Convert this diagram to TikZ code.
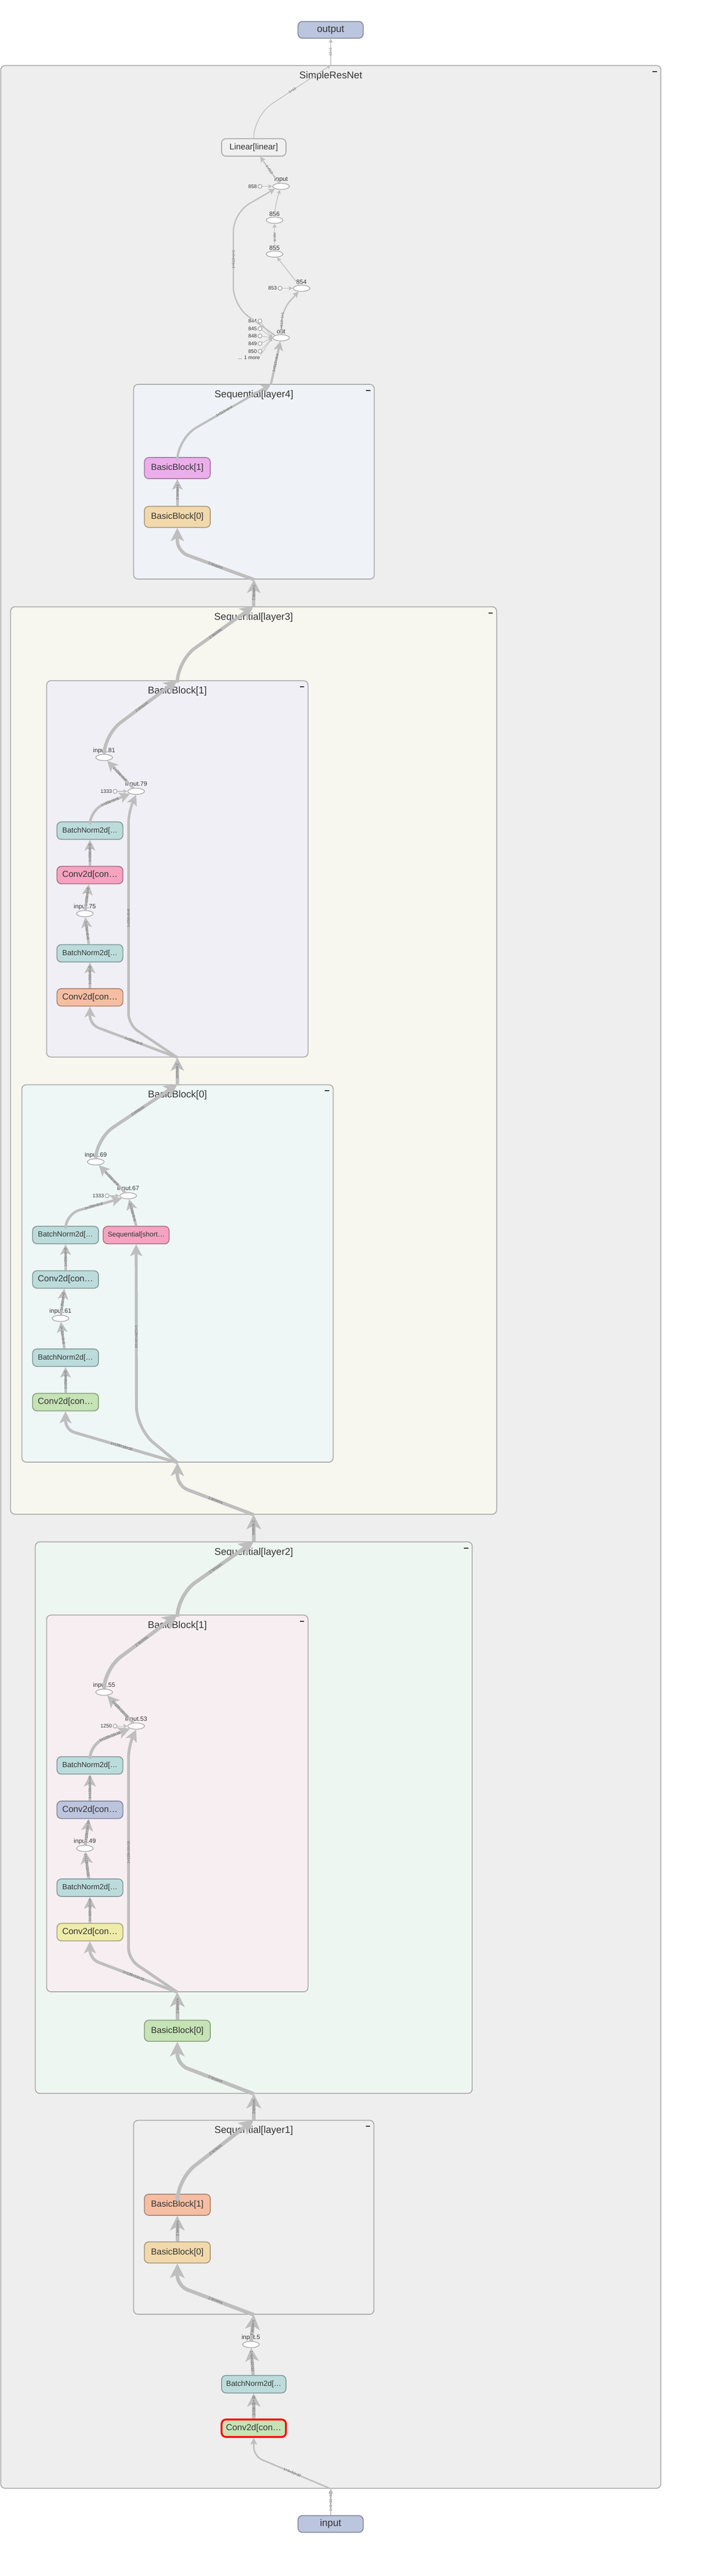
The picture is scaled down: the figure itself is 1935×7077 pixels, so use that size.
\documentclass[tikz,border=0pt]{standalone}
\usepackage{fontspec}
\setmainfont{Liberation Sans}
\usetikzlibrary{arrows.meta,shapes.geometric}

\newcommand\pxfont[1]{\fontsize{#1}{#1}\selectfont}

\definecolor{edgegray}{HTML}{BEBEBE}
\definecolor{boxline}{HTML}{A9A9A9}
\definecolor{txt}{HTML}{333333}
\definecolor{labtxt}{HTML}{666666}
\definecolor{netfill}{HTML}{EEEEEE}
\definecolor{lfourfill}{HTML}{EFF2F7}
\definecolor{lthreefill}{HTML}{F7F7F0}
\definecolor{bbonefill}{HTML}{F1EFF6}
\definecolor{bbzerofill}{HTML}{EEF7F5}
\definecolor{ltwofill}{HTML}{EEF6F1}
\definecolor{bbtwofill}{HTML}{F7EEF2}
\definecolor{lonefill}{HTML}{EFEFEF}
\definecolor{iofill}{HTML}{BBC5DE}
\definecolor{bnfill}{HTML}{BCDCDC}
\definecolor{pinkfill}{HTML}{F5A3C0}
\definecolor{salmonfill}{HTML}{F5BEA3}
\definecolor{tanfill}{HTML}{F1D9AB}
\definecolor{violetfill}{HTML}{EBAEEB}
\definecolor{greenfill}{HTML}{C5E3B5}
\definecolor{bluefill}{HTML}{BCC5DD}
\definecolor{yellowfill}{HTML}{EEECA8}
\definecolor{linfill}{HTML}{F0F0F0}

\begin{document}
\begin{tikzpicture}[x=1pt, y=-1pt,
        grp/.style={draw=boxline, line width=2.5, rounded corners=12, inner sep=0},
        gtitle/.style={text=txt, font=\pxfont{27}, inner sep=0},
        modbox/.style={draw=#1!70!black, fill=#1, line width=2.5, rounded corners=12, text=txt, inner sep=0, minimum height=48},
        iobox/.style={modbox=iofill, minimum width=179, minimum height=46, font=\pxfont{27}},
        bnbox/.style={modbox=bnfill, minimum width=181, font=\pxfont{20.5}},
        convbox/.style={modbox=#1, minimum width=181, font=\pxfont{24}},
        blockbox/.style={modbox=#1, minimum width=181, minimum height=58, font=\pxfont{24}},
        opnode/.style={ellipse, draw=boxline, fill=white, line width=2, minimum width=46, minimum height=17, inner sep=0},
        oplab/.style={text=txt, font=\pxfont{17}, inner sep=1},
        cstlab/.style={text=txt, font=\pxfont{14}, inner sep=2},
        cst/.style={circle, draw=boxline, fill=white, line width=2, minimum size=11, inner sep=0, label={[cstlab]left:#1}},
        wire/.style={draw=edgegray, line width=#1, -{Stealth[length=4pt 3.6, width=4pt 3.6, inset=0pt 1]}},
        elab/.style={text=labtxt, font=\pxfont{10}, sloped, inner sep=1}]

    \path[use as bounding box, fill=white] (0,0) rectangle (1935,7077);

    % groups
    \node[grp, fill=netfill, minimum width=1813, minimum height=6656] (net) at (908.5,3508) {};
    \node[grp, fill=lfourfill, minimum width=661, minimum height=535] (layer4) at (697.5,1323.5) {};
    \node[grp, fill=lthreefill, minimum width=1335, minimum height=2493] (layer3) at (696.5,2913.5) {};
    \node[grp, fill=bbonefill, minimum width=718, minimum height=1034] (l3b1) at (487,2387) {};
    \node[grp, fill=bbzerofill, minimum width=855, minimum height=1037] (l3b0) at (487.5,3498.5) {};
    \node[grp, fill=ltwofill, minimum width=1200, minimum height=1515] (layer2) at (697,4993.5) {};
    \node[grp, fill=bbtwofill, minimum width=718, minimum height=1035] (l2b1) at (487,4954.5) {};
    \node[grp, fill=lonefill, minimum width=660, minimum height=533] (layer1) at (697,6091.5) {};

    \node[gtitle] at ([yshift=-30pt]net.north) {SimpleResNet};
    \node[gtitle] at ([yshift=-30pt]layer4.north) {Sequential[layer4]};
    \node[gtitle] at ([yshift=-30pt]layer3.north) {Sequential[layer3]};
    \node[gtitle] at ([yshift=-30pt]l3b1.north) {BasicBlock[1]};
    \node[gtitle] at ([yshift=-30pt]l3b0.north) {BasicBlock[0]};
    \node[gtitle] at ([yshift=-30pt]layer2.north) {Sequential[layer2]};
    \node[gtitle] at ([yshift=-30pt]l2b1.north) {BasicBlock[1]};
    \node[gtitle] at ([yshift=-30pt]layer1.north) {Sequential[layer1]};

    \foreach \g in {net,layer4,layer3,l3b1,l3b0,layer2,l2b1,layer1}
        \draw[line width=3, txt] ([xshift=-24pt,yshift=-18pt]\g.north east) -- ++(12,0);

    % top
    \node[iobox] (output) at (908,82) {output};
    \node[modbox=linfill, minimum width=177, font=\pxfont{23}] (lin) at (697,405) {Linear[linear]};
    \node[opnode, label={[oplab]above:input}] (inp) at (772,512) {};
    \node[cst=858] (c858) at (714,512) {};
    \node[opnode, label={[oplab]above:856}] (o856) at (754,605) {};
    \node[opnode, label={[oplab]above:855}] (o855) at (754,698) {};
    \node[opnode, label={[oplab]above:854}] (o854) at (828,792) {};
    \node[cst=853] (c853) at (769,792) {};
    \node[opnode, label={[oplab]above:out}] (out) at (772,928) {};
    \node[cst=844] (c844) at (714,882) {};
    \node[cst=845] (c845) at (714,903) {};
    \node[cst=848] (c848) at (714,923) {};
    \node[cst=849] (c849) at (714,944) {};
    \node[cst=850] (c850) at (714,965) {};
    \node[cstlab, anchor=east] (more) at (716,982) {... 1 more};
    \coordinate (l4top) at (744,1056);

    % layer4
    \node[blockbox=violetfill] (l4b1) at (487,1286) {BasicBlock[1]};
    \node[blockbox=tanfill] (l4b0) at (487,1420) {BasicBlock[0]};

    % layer3
    \node[opnode, label={[oplab]above:input.81}] (in81) at (286,2081) {};
    \node[opnode, label={[oplab]above:input.79}] (in79) at (374,2174) {};
    \node[cst=1333] (c1333a) at (316,2174) {};
    \node[bnbox] (bn3a) at (247,2282) {BatchNorm2d[…};
    \node[convbox=pinkfill] (cv3a) at (247,2404) {Conv2d[con…};
    \node[opnode, label={[oplab]above:input.75}] (in75) at (233,2510) {};
    \node[bnbox] (bn3b) at (247,2619) {BatchNorm2d[…};
    \node[convbox=salmonfill] (cv3b) at (247,2740) {Conv2d[con…};

    \node[opnode, label={[oplab]above:input.69}] (in69) at (263,3192) {};
    \node[opnode, label={[oplab]above:input.67}] (in67) at (352,3285) {};
    \node[cst=1333] (c1333b) at (294,3285) {};
    \node[bnbox] (bn3c) at (180,3393) {BatchNorm2d[…};
    \node[modbox=pinkfill, minimum width=181, font=\pxfont{19}] (short) at (374,3393) {Sequential[short…};
    \node[convbox=bnfill] (cv3c) at (180,3515) {Conv2d[con…};
    \node[opnode, label={[oplab]above:input.61}] (in61) at (166,3622) {};
    \node[bnbox] (bn3d) at (180,3730) {BatchNorm2d[…};
    \node[convbox=greenfill] (cv3d) at (180,3852) {Conv2d[con…};

    % layer2
    \node[opnode, label={[oplab]above:input.55}] (in55) at (286,4649) {};
    \node[opnode, label={[oplab]above:input.53}] (in53) at (374,4742) {};
    \node[cst=1250] (c1250) at (316,4742) {};
    \node[bnbox] (bn2a) at (247,4850) {BatchNorm2d[…};
    \node[convbox=bluefill] (cv2a) at (247,4972) {Conv2d[con…};
    \node[opnode, label={[oplab]above:input.49}] (in49) at (233,5078) {};
    \node[bnbox] (bn2b) at (247,5186) {BatchNorm2d[…};
    \node[convbox=yellowfill] (cv2b) at (247,5308) {Conv2d[con…};
    \node[blockbox=greenfill] (l2b0) at (487,5579) {BasicBlock[0]};

    % layer1 and stem
    \node[blockbox=salmonfill] (l1b1) at (487,6057) {BasicBlock[1]};
    \node[blockbox=tanfill] (l1b0) at (487,6188) {BasicBlock[0]};
    \node[opnode, label={[oplab]above:input.5}] (in5) at (689,6441) {};
    \node[bnbox, minimum width=177] (bn0) at (697,6550) {BatchNorm2d[…};
    \node[convbox=greenfill, minimum width=177, draw=red, line width=5] (cv0) at (697,6671) {Conv2d[con…};
    \node[iobox] (inbox) at (908,6934) {input};

    % edges, top
    \draw[wire=2] (net.north) -- node[elab]{1×10} (output);
    \draw[wire=2, rounded corners=60] (lin.north) -- (697,318) -- node[elab]{1×10} (net.north);
    \draw[wire=3] (inp) -- node[elab]{1×512} (lin);
    \draw[wire=2] (c858) -- (inp);
    \draw[wire=2, rounded corners=30] (o856.north) -- (756,560) -- (inp);
    \draw[wire=2] (o855) -- node[elab]{scalar} (o856);
    \draw[wire=2] (o854) -- (o855);
    \draw[wire=2] (c853) -- (o854);
    \draw[wire=3.5, rounded corners=30] (out.north) -- node[elab]{1×512×1×1} (776,850) -- (o854);
    \draw[wire=3.5, rounded corners=50] (out.north west) -- (641,840) -- node[elab]{1×512×1×1} (641,585) -- (inp.south west);
    \foreach \c in {c844,c845,c848,c849,c850}
        \draw[wire=1.5] (\c) -- (out.west);
    \draw[wire=1.5] (more.north east) -- (out.west);
    \draw[wire=6] (l4top) -- node[elab]{1×512×4×4} (out);

    % layer4
    \draw[wire=6, rounded corners=60] (l4b1.north) -- (487,1205) -- node[elab]{1×512×4×4} (l4top);
    \draw[wire=7] (l4b0) -- node[elab]{2 tensors} (l4b1);
    \draw[wire=9, rounded corners=30] (layer4.south) -- node[elab]{2 tensors} (487,1515) -- (l4b0.south);
    \draw[wire=9] (layer3.north) -- node[elab]{2 tensors} (layer4.south);

    % layer3
    \draw[wire=9, rounded corners=60] (l3b1.north) -- (487,1815) -- node[elab]{2 tensors} (layer3.north);
    \draw[wire=9, rounded corners=50] (in81.north) -- (291,2015) -- node[elab]{2 tensors} (l3b1.north);
    \draw[wire=7] (in79) -- node[elab]{1×256×8×8} (in81);
    \draw[wire=2] (c1333a) -- (in79);
    \draw[wire=7, rounded corners=40] (bn3a.north) -- (247,2225) -- node[elab]{1×256×8×8} (in79.south west);
    \draw[wire=7] (cv3a) -- node[elab]{1×256×8×8} (bn3a);
    \draw[wire=7] (in75) -- node[elab]{1×256×8×8} (cv3a);
    \draw[wire=7] (bn3b) -- node[elab]{1×256×8×8} (in75);
    \draw[wire=7] (cv3b) -- node[elab]{1×256×8×8} (bn3b);
    \draw[wire=7, rounded corners=25] (l3b1.south) -- node[elab]{1×256×8×8} (247,2815) -- (cv3b.south);
    \draw[wire=7, rounded corners=30] (l3b1.south) -- (353,2815) -- node[elab]{1×256×8×8} (353,2230) -- (in79.south);
    \draw[wire=9] (l3b0.north) -- node[elab]{2 tensors} (l3b1.south);

    \draw[wire=9, rounded corners=50] (in69.north) -- (269,3125) -- node[elab]{2 tensors} (l3b0.north);
    \draw[wire=7] (in67) -- node[elab]{1×256×8×8} (in69);
    \draw[wire=2] (c1333b) -- (in67);
    \draw[wire=7, rounded corners=40] (bn3c.north) -- (180,3335) -- node[elab]{1×256×8×8} (in67.south west);
    \draw[wire=7] (short.north) -- node[elab]{1×256×8×8} (in67);
    \draw[wire=7] (cv3c) -- node[elab]{1×256×8×8} (bn3c);
    \draw[wire=7] (in61) -- node[elab]{1×256×8×8} (cv3c);
    \draw[wire=7] (bn3d) -- node[elab]{1×256×8×8} (in61);
    \draw[wire=7] (cv3d) -- node[elab]{1×256×8×8} (bn3d);
    \draw[wire=8, rounded corners=25] (l3b0.south) -- node[elab]{1×128×16×16} (180,3928) -- (cv3d.south);
    \draw[wire=8, rounded corners=60] (l3b0.south) -- (375,3925) -- node[elab]{1×128×16×16} (short.south);
    \draw[wire=9, rounded corners=30] (layer3.south) -- node[elab]{2 tensors} (487,4082) -- (l3b0.south);
    \draw[wire=10] (layer2.north) -- node[elab]{2 tensors} (layer3.south);

    % layer2
    \draw[wire=10, rounded corners=60] (l2b1.north) -- (487,4382) -- node[elab]{2 tensors} (layer2.north);
    \draw[wire=10, rounded corners=50] (in55.north) -- (291,4582) -- node[elab]{2 tensors} (l2b1.north);
    \draw[wire=8] (in53) -- node[elab]{1×128×16×16} (in55);
    \draw[wire=2] (c1250) -- (in53);
    \draw[wire=8, rounded corners=40] (bn2a.north) -- (247,4792) -- node[elab]{1×128×16×16} (in53.south west);
    \draw[wire=8] (cv2a) -- node[elab]{1×128×16×16} (bn2a);
    \draw[wire=8] (in49) -- node[elab]{1×128×16×16} (cv2a);
    \draw[wire=8] (bn2b) -- node[elab]{1×128×16×16} (in49);
    \draw[wire=8] (cv2b) -- node[elab]{1×128×16×16} (bn2b);
    \draw[wire=8, rounded corners=25] (l2b1.south) -- node[elab]{1×128×16×16} (247,5382) -- (cv2b.south);
    \draw[wire=8, rounded corners=30] (l2b1.south) -- (353,5382) -- node[elab]{1×128×16×16} (353,4797) -- (in53.south);
    \draw[wire=10] (l2b0) -- node[elab]{2 tensors} (l2b1.south);
    \draw[wire=10, rounded corners=30] (layer2.south) -- node[elab]{2 tensors} (487,5672) -- (l2b0.south);
    \draw[wire=10] (layer1.north) -- node[elab]{2 tensors} (layer2.south);

    % layer1 and stem
    \draw[wire=10, rounded corners=60] (l1b1.north) -- (487,5987) -- node[elab]{2 tensors} (layer1.north);
    \draw[wire=10] (l1b0) -- node[elab]{2 tensors} (l1b1);
    \draw[wire=10, rounded corners=30] (layer1.south) -- node[elab]{2 tensors} (487,6280) -- (l1b0.south);
    \draw[wire=10] (in5) -- node[elab]{2 tensors} (layer1.south);
    \draw[wire=9] (bn0) -- node[elab]{1×64×32×32} (in5);
    \draw[wire=9] (cv0) -- node[elab]{1×64×32×32} (bn0);
    \draw[wire=4, rounded corners=25] (net.south) -- node[elab]{1×3×32×32} (697,6748) -- (cv0.south);
    \draw[wire=2.5] (inbox) -- node[elab]{1×3×32×32} (net.south);
\end{tikzpicture}
\end{document}
